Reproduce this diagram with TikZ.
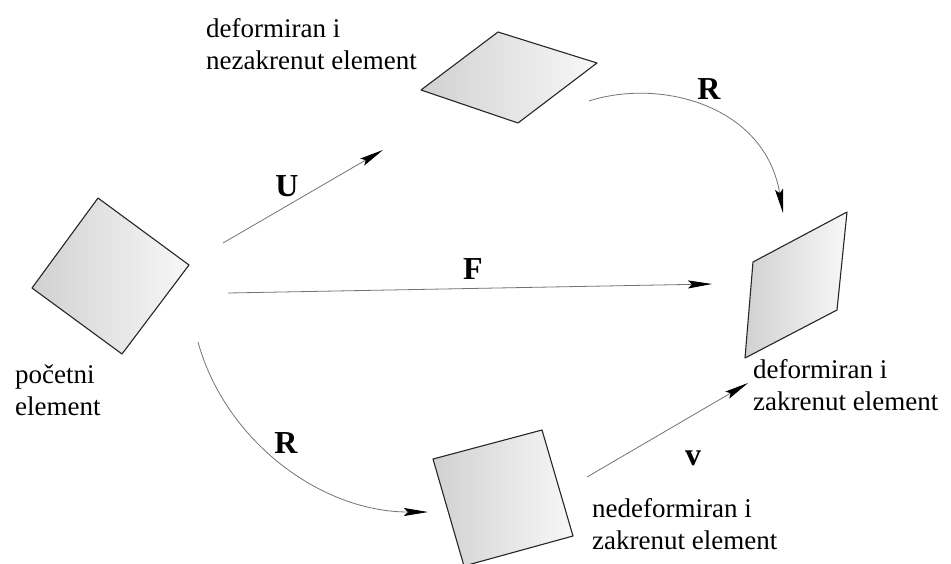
\documentclass[tikz,border=0pt]{standalone}
\usepackage{fontspec}
\setmainfont{Liberation Serif}
\usetikzlibrary{arrows.meta}
\begin{document}
\begin{tikzpicture}[x=1pt,y=-1pt,
  elem/.style={draw=black!85, line width=1.1pt, line join=round, left color=black!18, right color=black!3},
  conn/.style={draw=black!55, line width=0.8pt, -{Stealth[length=24pt,width=8pt,inset=4pt,color=black]}},
  lbl/.style={font=\fontsize{27}{32}\selectfont, align=left, anchor=north west, inner sep=0pt},
  sym/.style={font=\fontsize{32}{32}\selectfont\bfseries, anchor=base, inner sep=0pt}]
\useasboundingbox (0,0) rectangle (951,563);
% elements
\path[elem] (98,198) -- (189,265) -- (122,354) -- (32,288) -- cycle;
\path[elem] (498,32) -- (597,63) -- (518,123) -- (421,90) -- cycle;
\path[elem] (847,212) -- (753,262) -- (745,358) -- (837,310) -- cycle;
\path[elem] (433,459) -- (542,430) -- (573,536) -- (464,566) -- cycle;
% labels
\node[lbl] (t1) at (206,18.5) {deformiran i\\nezakrenut element};
\node[lbl] (t2) at (15,364.5) {početni\\element};
\node[lbl] (t3) at (753,359.5) {deformiran i\\zakrenut element};
\node[lbl] (t4) at (592,498.5) {nedeformiran i\\zakrenut element};
\node[sym] (lU) at (287,196) {U};
\node[sym] (lF) at (473,279) {F};
\node[sym] (lR1) at (709,99) {R};
\node[sym] (lR2) at (286,453) {R};
\node[sym] (lv) at (693,465) {v};
% connectors
\coordinate (u0) at (223,243); \coordinate (u1) at (383,150);
\coordinate (f0) at (228,293); \coordinate (f1) at (712,284);
\coordinate (r0) at (589,101); \coordinate (r1) at (783,213);
\coordinate (s0) at (198,342); \coordinate (s1) at (428,512);
\coordinate (v0) at (587,477); \coordinate (v1) at (748,383);
\draw[conn] (u0) -- (u1);
\draw[conn] (f0) -- (f1);
\draw[conn] (r0) .. controls (660,78) and (765,105) .. (r1);
\draw[conn] (s0) .. controls (225,440) and (320,512) .. (s1);
\draw[conn] (v0) -- (v1);
\end{tikzpicture}
\end{document}
